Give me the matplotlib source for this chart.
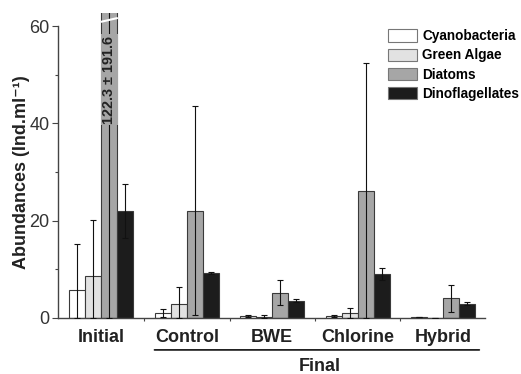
import matplotlib
matplotlib.use("Agg")
import matplotlib.pyplot as plt
import numpy as np

plt.rcParams["font.family"] = ["Liberation Sans", "DejaVu Sans"]

groups = ["Initial", "Control", "BWE", "Chlorine", "Hybrid"]
series = ["Cyanobacteria", "Green Algae", "Diatoms", "Dinoflagellates"]
cyano = [5.8, 1.0, 0.3, 0.4, 0.1]
cyano_err = [9.4, 0.8, 0.2, 0.2, 0.0]
green = [8.7, 2.9, 0.1, 1.0, 0.05]
green_err = [11.4, 3.5, 0.5, 1.0, 0.0]
diatoms = [122.3, 22.0, 5.2, 26.1, 4.0]
diatoms_err = [191.6, 21.5, 2.5, 26.3, 2.8]
dino = [22.0, 9.2, 3.5, 9.0, 2.9]
dino_err = [5.5, 0.2, 0.3, 1.2, 0.3]
diatom_label = "122.3 ± 191.6"
y_ticks = [0, 20, 40, 60]

values = [cyano, green, diatoms, dino]
errors = [cyano_err, green_err, diatoms_err, dino_err]
colors = ["#ffffff", "#e2e2e2", "#a6a6a6", "#1c1c1c"]
edge = "#3a3a3a"

fig = plt.figure(figsize=(5.21, 3.74), dpi=100)
ax = fig.add_axes([0.111, 0.150, 0.820, 0.815])

x = np.arange(len(groups))
w = 0.188
offsets = (np.arange(4) - 1.5) * w
ymax = 62.7
for k in range(4):
    ax.bar(x + offsets[k], values[k], width=w, color=colors[k], edgecolor=edge,
           linewidth=0.8, label=series[k], zorder=2)
    lo = np.minimum(np.array(errors[k]), np.array(values[k]))
    hi = np.array(errors[k])
    ax.errorbar(x + offsets[k], values[k], yerr=[lo, hi], fmt="none",
                ecolor="#111111", elinewidth=0.8, capsize=2, capthick=0.8, zorder=3)

ax.set_ylim(0, ymax)
ax.set_xlim(-0.509, 4.49)

# annotation on clipped diatom bar
xd = x[0] + offsets[2]
ax.text(xd, 49.0, diatom_label, rotation=90, ha="center", va="center", fontsize=10.4,
        fontweight="bold", color="#222222",
        bbox=dict(boxstyle="square,pad=0.1", fc=colors[2], ec="none"), zorder=4)
# break mark
ax.plot([xd - w / 2 - 0.005, xd + w / 2 + 0.005], [60.9, 61.7], color="white", lw=1.5,
        zorder=5, clip_on=False, solid_capstyle="butt")

ax.spines["top"].set_visible(False)
ax.spines["right"].set_visible(False)
ax.spines["left"].set_bounds(0, 60)
for s in ["left", "bottom"]:
    ax.spines[s].set_color("#444444")
    ax.spines[s].set_linewidth(1.0)

ax.set_yticks(y_ticks)
ax.set_yticks([10, 30, 50], minor=True)
ax.tick_params(axis="y", which="major", length=4, width=0.8, labelsize=13,
               colors="#444444", labelcolor="#333333", pad=2)
ax.tick_params(axis="y", which="minor", length=2.5, width=0.8, colors="#444444")

ax.set_xticks(x)
ax.set_xticklabels(groups, fontsize=13, fontweight="bold", color="#222222")
ax.tick_params(axis="x", which="major", length=0, pad=8)
ax.set_xticks(x[:-1] + 0.5, minor=True)
ax.tick_params(axis="x", which="minor", length=2, width=0.8, colors="#444444")

ax.set_ylabel("Abundances (Ind.ml⁻¹)", fontsize=13, fontweight="bold",
              color="#222222")
ax.yaxis.set_label_coords(-0.066, 0.478)

# Final bracket
ax.annotate("", xy=(0.59, -0.105), xycoords=("data", "axes fraction"),
            xytext=(4.455, -0.105), textcoords=("data", "axes fraction"),
            arrowprops=dict(arrowstyle="-", color="#222222", lw=1.3),
            annotation_clip=False)
ax.text(2.55, -0.16, "Final", transform=ax.get_xaxis_transform(), ha="center",
        va="center", fontsize=13, fontweight="bold", color="#222222")

leg = ax.legend(loc="upper right", bbox_to_anchor=(1.092, 0.965), frameon=False,
                prop=dict(size=9.8, weight="bold"), handlelength=2.15, handleheight=1.0,
                labelspacing=0.38, handletextpad=0.35, borderaxespad=0)
for h in leg.legend_handles:
    h.set_edgecolor("#777777")

fig.savefig("out.png", dpi=100)
